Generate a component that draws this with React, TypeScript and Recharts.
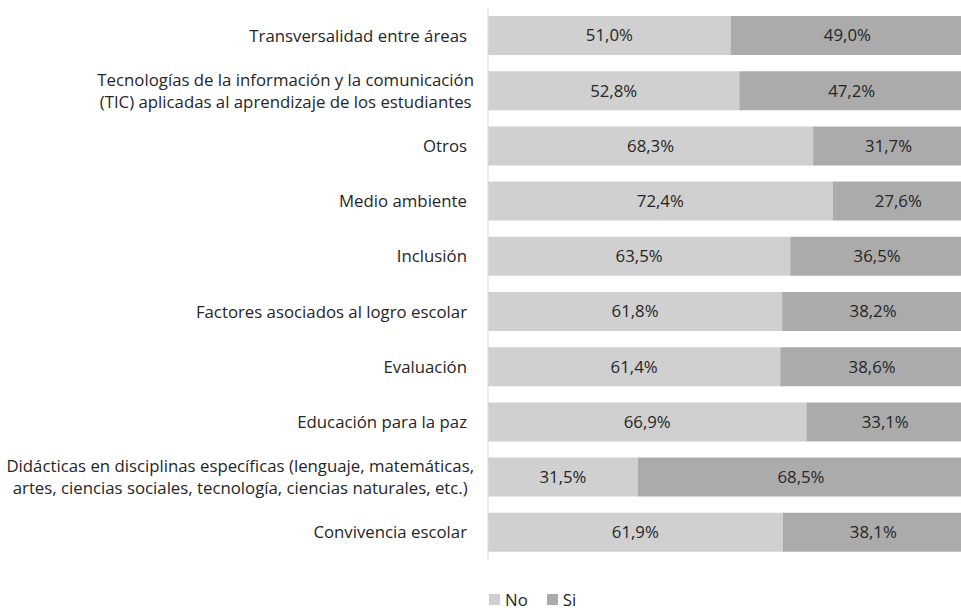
import { BarChart, Bar, XAxis, YAxis, LabelList, Legend } from "recharts"

const categories = [
  "Transversalidad entre áreas",
  "Tecnologías de la información y la comunicación|(TIC) aplicadas al aprendizaje de los estudiantes",
  "Otros",
  "Medio ambiente",
  "Inclusión",
  "Factores asociados al logro escolar",
  "Evaluación",
  "Educación para la paz",
  "Didácticas en disciplinas específicas (lenguaje, matemáticas,|artes, ciencias sociales, tecnología, ciencias naturales, etc.)",
  "Convivencia escolar",
]
const noValues = [51.0, 52.8, 68.3, 72.4, 63.5, 61.8, 61.4, 66.9, 31.5, 61.9]
const siValues = [49.0, 47.2, 31.7, 27.6, 36.5, 38.2, 38.6, 33.1, 68.5, 38.1]

const data = categories.map((name, i) => ({ name, No: noValues[i], Si: siValues[i] }))

const FONT = "'Open Sans', sans-serif"
const FONT_SIZE = 16.8
const TEXT = "#262626"

const fmt = (v: any) => Number(v).toFixed(1).replace(".", ",") + "%"

// rough text width, used to centre wrapped labels like Excel does
let ctx: CanvasRenderingContext2D | null = null
function textWidth(s: string) {
  if (!ctx) ctx = document.createElement("canvas").getContext("2d")
  if (!ctx) return s.length * 7.7
  ctx.font = `${FONT_SIZE}px 'Open Sans'`
  return ctx.measureText(s).width
}

function CategoryTick({ x, y, payload }: any) {
  const lines: string[] = String(payload.value).split("|")
  if (lines.length === 1) {
    return (
      <text x={x - 13} y={y + 6} textAnchor="end" fill={TEXT} fontSize={FONT_SIZE} fontFamily={FONT}>
        {lines[0]}
      </text>
    )
  }
  const lh = 22
  const start = -((lines.length - 1) * lh) / 2
  const w = Math.max(...lines.map(textWidth))
  const cx = x - 6 - w / 2
  return (
    <text x={cx} y={y} textAnchor="middle" fill={TEXT} fontSize={FONT_SIZE} fontFamily={FONT}>
      {lines.map((l, i) => (
        <tspan key={i} x={cx} dy={i === 0 ? start + 6 : lh}>
          {l}
        </tspan>
      ))}
    </text>
  )
}

function LegendContent() {
  const items = [
    { label: "No", color: "#d0d0d0" },
    { label: "Si", color: "#ababab" },
  ]
  return (
    <div style={{ display: "flex", fontFamily: FONT, fontSize: FONT_SIZE, color: TEXT }}>
      {items.map((it) => (
        <div key={it.label} style={{ display: "flex", alignItems: "center", marginRight: 19 }}>
          <span style={{ width: 11, height: 11, background: it.color, display: "inline-block", marginRight: 5 }} />
          <span>{it.label}</span>
        </div>
      ))}
    </div>
  )
}

export default function App() {
  return (
    <div style={{ position: "absolute", left: 0, top: 0, width: 961, height: 612, overflow: "hidden", background: "#fff" }}>
      <BarChart
        width={964}
        height={612}
        data={data}
        layout="vertical"
        margin={{ top: 8, right: 0, bottom: 30, left: 0 }}
        barSize={39}
      >
        <XAxis type="number" domain={[0, 100]} hide />
        <YAxis
          type="category"
          dataKey="name"
          width={488}
          axisLine={{ stroke: "#d9d9d9" }}
          tickLine={false}
          tick={<CategoryTick />}
          interval={0}
        />
        <Legend
          content={<LegendContent />}
          wrapperStyle={{ position: "absolute", left: 489, top: 588, width: 200, height: 22 }}
        />
        <Bar dataKey="No" stackId="a" fill="#d0d0d0" isAnimationActive={false}>
          <LabelList dataKey="No" position="center" formatter={fmt} fill={TEXT} fontSize={FONT_SIZE} fontFamily={FONT} />
        </Bar>
        <Bar dataKey="Si" stackId="a" fill="#ababab" isAnimationActive={false}>
          <LabelList dataKey="Si" position="center" formatter={fmt} fill={TEXT} fontSize={FONT_SIZE} fontFamily={FONT} />
        </Bar>
      </BarChart>
    </div>
  )
}
